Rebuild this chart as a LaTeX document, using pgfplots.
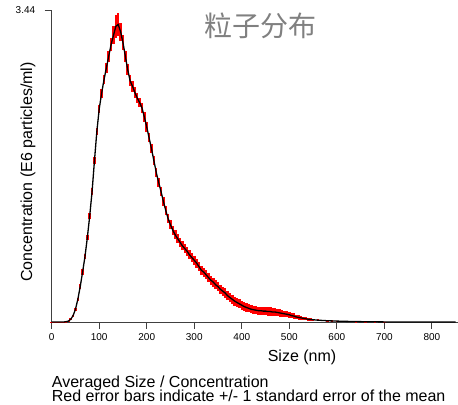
\documentclass[border=0pt]{standalone}
\usepackage{fontspec}
\setmainfont{Liberation Sans}
\newfontfamily\cjk{Noto Sans CJK SC}
\usepackage{pgfplots}
\usepackage{pgfplotstable}
\pgfplotsset{compat=1.18}
\newcommand{\tkf}{\fontsize{10bp}{12bp}\selectfont}
\pgfplotstableread{
x y e
0 0 0.003
5 0 0.003
10 0 0.003
15 0 0.003
20 0 0.003
25 0 0.003
30 0.003 0.004
35 0.01 0.006
40 0.03 0.01
45 0.07 0.012
50 0.14 0.015
55 0.25 0.02
60 0.39 0.025
65 0.55 0.03
70 0.72 0.03
75 0.93 0.03
80 1.17 0.03
85 1.44 0.035
90 1.78 0.035
95 2.10 0.04
100 2.35 0.045
105 2.52 0.05
110 2.67 0.05
115 2.80 0.055
120 2.93 0.06
125 3.06 0.07
130 3.16 0.10
135 3.26 0.13
140 3.28 0.13
145 3.20 0.10
150 3.08 0.08
155 2.93 0.06
160 2.78 0.06
165 2.66 0.06
170 2.60 0.06
175 2.53 0.06
180 2.47 0.055
185 2.42 0.055
190 2.36 0.055
195 2.26 0.05
200 2.15 0.05
205 2.03 0.05
210 1.91 0.05
215 1.78 0.05
220 1.65 0.05
225 1.54 0.05
230 1.44 0.05
235 1.33 0.05
240 1.23 0.05
245 1.14 0.05
250 1.07 0.05
255 1.01 0.05
260 0.96 0.05
265 0.92 0.05
270 0.88 0.05
275 0.84 0.05
280 0.81 0.05
285 0.78 0.05
290 0.74 0.05
295 0.71 0.05
300 0.68 0.05
305 0.65 0.05
310 0.61 0.05
315 0.57 0.05
320 0.55 0.05
325 0.52 0.05
330 0.49 0.05
335 0.46 0.05
340 0.44 0.05
345 0.41 0.05
350 0.39 0.05
355 0.36 0.05
360 0.34 0.05
365 0.32 0.05
370 0.29 0.05
375 0.27 0.05
380 0.25 0.05
385 0.23 0.05
390 0.215 0.05
395 0.20 0.05
400 0.185 0.05
405 0.17 0.045
410 0.16 0.045
415 0.15 0.045
420 0.14 0.045
425 0.135 0.045
430 0.13 0.045
435 0.125 0.045
440 0.125 0.045
445 0.12 0.045
450 0.12 0.045
455 0.115 0.045
460 0.115 0.045
465 0.11 0.045
470 0.11 0.045
475 0.105 0.04
480 0.10 0.04
485 0.095 0.04
490 0.09 0.035
495 0.085 0.035
500 0.08 0.035
505 0.07 0.03
510 0.065 0.03
515 0.055 0.025
520 0.05 0.025
525 0.045 0.02
530 0.04 0.02
535 0.035 0.015
540 0.03 0.015
545 0.028 0.012
550 0.025 0.012
560 0.02 0.01
570 0.017 0.008
580 0.014 0.007
590 0.012 0.006
600 0.01 0.005
620 0.007 0.004
640 0.005 0.003
660 0.003 0.002
680 0.002 0.002
700 0.001 0.001
750 0 0
800 0 0
850 0 0
}\datatable
\begin{document}
\begin{tikzpicture}
\useasboundingbox (0,0) rectangle (458bp,405bp);
\begin{axis}[
  at={(51.7bp,83bp)}, anchor=south west,
  scale only axis, width=406.3bp, height=312bp,
  xmin=0, xmax=855, ymin=0, ymax=3.44,
  axis x line*=bottom, axis y line*=left,
  axis line style={black!75, line width=0.8bp, -},
  xtick={0,100,...,800}, ytick={3.44},
  xticklabels={{\tkf 0},{\tkf 100},{\tkf 200},{\tkf 300},{\tkf 400},{\tkf 500},{\tkf 600},{\tkf 700},{\tkf 800}},
  yticklabels={{\tkf 3.44}},
  tick align=outside, major tick length=7bp,
  tick style={black!75, line width=0.8bp},
  /pgf/number format/assume math mode=true,
  xticklabel style={text=black, yshift=-1bp},
  yticklabel style={text=black, xshift=-6bp},
  clip=false,
]
\addplot[draw=none, mark=none, error bars/.cd, y dir=both, y explicit,
  error mark=none, error bar style={red, line width=2.5bp}]
  table[x=x, y=y, y error=e] {\datatable};
\addplot[black, line width=1.3bp, mark=none] table[x=x, y=y] {\datatable};
\end{axis}
\node[anchor=north, font=\fontsize{16bp}{18bp}\selectfont, inner sep=0pt] at (302bp,55bp) {Size (nm)};
\node[rotate=90, font=\fontsize{16bp}{18bp}\selectfont, inner sep=0pt] at (28bp,233bp) {Concentration (E6 particles/ml)};
\node[anchor=base west, font=\fontsize{16bp}{18bp}\selectfont, inner sep=0pt] at (51.7bp,18bp) {Averaged Size / Concentration};
\node[anchor=base west, font=\fontsize{16bp}{18bp}\selectfont, inner sep=0pt] at (51.7bp,4bp) {Red error bars indicate +/- 1 standard error of the mean};
\node[font=\cjk\fontsize{28bp}{30bp}\selectfont, text=black!50, inner sep=0pt] at (260bp,379bp) {粒子分布};
\end{tikzpicture}
\end{document}
